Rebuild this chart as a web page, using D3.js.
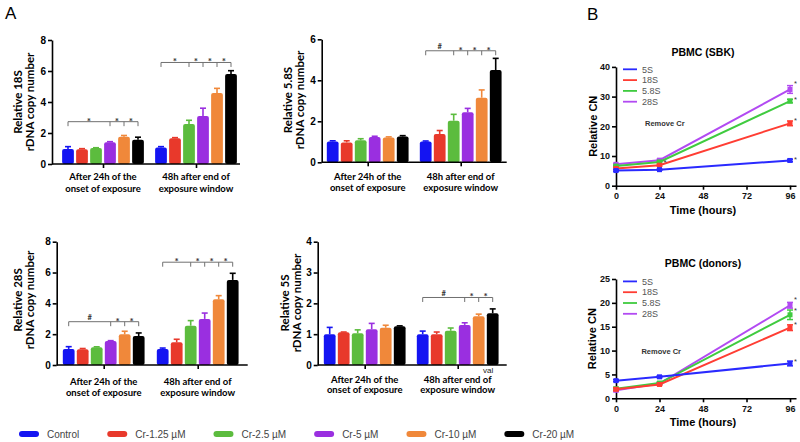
<!DOCTYPE html>
<html>
<head>
<meta charset="utf-8">
<script src="https://cdnjs.cloudflare.com/ajax/libs/d3/7.8.5/d3.min.js"></script>
<style>
    body { margin: 0; background: #ffffff; }
    svg  { display: block; }
</style>
</head>
<body>
<div id="chart"></div>
<script>
/* Panel A data */
var series          = ["Control", "Cr-1.25 µM", "Cr-2.5 µM", "Cr-5 µM", "Cr-10 µM", "Cr-20 µM"];
var seriesColors    = ["#1414f2", "#e8392b", "#5cbc3e", "#9a2fe0", "#f0883a", "#000000"];
var groups          = ["24h", "48h"];
var groupLines      = [["After 24h of the", "onset of exposure"], ["48h after end of", "exposure window"]];

// relative rDNA copy number, [group][series]
var rdna18S         = [[0.97, 0.95, 1.03, 1.40, 1.76, 1.56], [1.07, 1.66, 2.58, 3.10, 4.58, 5.80]];
var rdna18SErr      = [[0.15, 0.04, 0.02, 0.04, 0.08, 0.17], [0.05, 0.04, 0.24, 0.50, 0.30, 0.22]];
var rdna58S         = [[1.02, 0.97, 1.07, 1.24, 1.21, 1.26], [1.01, 1.38, 2.03, 2.44, 3.15, 4.50]];
var rdna58SErr      = [[0.03, 0.08, 0.08, 0.03, 0.03, 0.04], [0.03, 0.17, 0.31, 0.19, 0.38, 0.57]];
var rdna28S         = [[1.04, 1.02, 1.15, 1.56, 1.99, 1.88], [1.04, 1.47, 2.55, 2.99, 4.26, 5.52]];
var rdna28SErr      = [[0.15, 0.05, 0.03, 0.02, 0.20, 0.20], [0.06, 0.20, 0.33, 0.38, 0.24, 0.43]];
var rdna5S          = [[1.00, 1.06, 1.03, 1.16, 1.21, 1.26], [1.00, 1.00, 1.11, 1.30, 1.58, 1.68]];
var rdna5SErr       = [[0.22, 0.01, 0.11, 0.19, 0.08, 0.01], [0.10, 0.07, 0.09, 0.07, 0.07, 0.14]];

var ticks8          = [0, 2, 4, 6, 8];
var ticks6          = [0, 2, 4, 6];
var ticks4          = [0, 1, 2, 3, 4];

// significance brackets: bars joined, level, marks between ticks
var sig18S          = [{group: 0, level: 2.73, bars: [0, 3, 4, 5], marks: ["*", "*", "*"]},
                       {group: 1, level: 6.55, bars: [0, 2, 3, 4, 5], marks: ["*", "*", "*", "*"]}];
var sig58S          = [{group: 1, level: 5.44, bars: [0, 2, 3, 4, 5], marks: ["#", "*", "*", "*"]}];
var sig28S          = [{group: 0, level: 2.81, bars: [0, 3, 4, 5], marks: ["#", "*", "*"]},
                       {group: 1, level: 6.67, bars: [0, 2, 3, 4, 5], marks: ["*", "*", "*", "*"]}];
var sig5S           = [{group: 1, level: 2.19, bars: [0, 3, 4, 5], marks: ["#", "*", "*"]}];

/* Panel B data */
var hours           = [0, 24, 96];
var hourTicks       = [0, 24, 48, 72, 96];
var rrna            = ["5S", "18S", "5.8S", "28S"];
var rrnaColors      = ["#2a2aff", "#ff3d33", "#3fcb3f", "#b24af2"];

var sbk5S           = [5.1, 5.4, 8.5],    sbk5SErr    = [0.3, 0.2, 0.4];
var sbk18S          = [5.8, 6.9, 21.0],   sbk18SErr   = [0.3, 0.3, 0.8];
var sbk58S          = [6.6, 8.0, 28.5],   sbk58SErr   = [0.3, 0.3, 0.6];
var sbk28S          = [7.2, 8.6, 32.4],   sbk28SErr   = [0.3, 0.3, 1.3];
var donor5S         = [3.7, 4.5, 7.3],    donor5SErr  = [0.2, 0.2, 0.5];
var donor18S        = [1.9, 2.9, 14.8],   donor18SErr = [0.3, 0.2, 0.6];
var donor58S        = [2.0, 3.2, 17.5],   donor58SErr = [0.3, 0.2, 1.0];
var donor28S        = [1.7, 3.1, 19.5],   donor28SErr = [0.3, 0.2, 0.6];

var yTicksSbk       = [0, 10, 20, 30, 40];
var yTicksDonor     = [0, 5, 10, 15, 20, 25];

/* Setup */
var fontA = "Lato, 'Liberation Sans', sans-serif",
    fontB = "'Liberation Sans', Arial, sans-serif";

var svg = d3.select("#chart").append("svg")
    .attr("width", 800)
    .attr("height", 442);

svg.append("text").attr("x", 5).attr("y", 19).text("A")
    .style("font-family", fontB).style("font-size", "17px");
svg.append("text").attr("x", 587).attr("y", 20).text("B")
    .style("font-family", fontB).style("font-size", "17px");

/*
Panel A - bar charts
*/

var barPanels = [
    {label: "Relative 18S",  mean: rdna18S, err: rdna18SErr, ticks: ticks8, sig: sig18S, x0: 52,    w: 188, y0: 164,   y1: 40,    cx: [51, 144], lx: 18,  ly: 102, xl: [12, 24]},
    {label: "Relative 5.8S", mean: rdna58S, err: rdna58SErr, ticks: ticks6, sig: sig58S, x0: 321.7, w: 185, y0: 162.3, y1: 39.3,  cx: [46, 139], lx: 288, ly: 100, xl: [14, 25]},
    {label: "Relative 28S",  mean: rdna28S, err: rdna28SErr, ticks: ticks8, sig: sig28S, x0: 56.7,  w: 191, y0: 365,   y1: 241.7, cx: [47, 141], lx: 18,  ly: 300, xl: [16, 27]},
    {label: "Relative 5S",   mean: rdna5S,  err: rdna5SErr,  ticks: ticks4, sig: sig5S,  x0: 317.7, w: 189, y0: 365,   y1: 241.7, cx: [47, 140], lx: 285, ly: 303, xl: [14, 24]}
];

var bx = d3.scaleBand().domain(series).range([-42, 42]).paddingInner(0.16).paddingOuter(0.08);

barPanels.forEach(function (p) {

    var g  = svg.append("g").style("font-family", fontA);
    var y  = d3.scaleLinear().domain([0, d3.max(p.ticks)]).range([p.y0, p.y1]);
    var gx = d3.scalePoint().domain(groups).range([p.x0 + p.cx[0], p.x0 + p.cx[1]]);

    // Bars + error bars
    groups.forEach(function (grp, gi) {
        series.forEach(function (s, si) {
            var v  = p.mean[gi][si],
                e  = p.err[gi][si],
                cx = gx(grp) + bx(s) + bx.bandwidth() / 2,
                c  = seriesColors[si];
            g.append("line")
                .attr("x1", cx).attr("x2", cx)
                .attr("y1", y(v)).attr("y2", y(v + e))
                .attr("stroke", c).attr("stroke-width", 1.6);
            g.append("line")
                .attr("x1", cx - 3).attr("x2", cx + 3)
                .attr("y1", y(v + e)).attr("y2", y(v + e))
                .attr("stroke", c).attr("stroke-width", 1.6);
            g.append("rect")
                .attr("x", gx(grp) + bx(s))
                .attr("y", y(v))
                .attr("width", bx.bandwidth())
                .attr("height", p.y0 - y(v))
                .attr("rx", 2)
                .attr("fill", c);
        });
    });

    // Y axis
    var ya = g.append("g")
        .attr("transform", "translate(" + p.x0 + ",0)")
        .call(d3.axisLeft(y).tickValues(p.ticks).tickFormat(d3.format("d")).tickSize(4).tickSizeOuter(0).tickPadding(2));
    ya.select(".domain").attr("stroke-width", 1.6);
    ya.selectAll(".tick line").attr("stroke-width", 1.6);
    ya.selectAll(".tick text").style("font-size", "10px").style("font-weight", "bold").attr("fill", "#000");

    // X axis
    var xa = g.append("g")
        .attr("transform", "translate(0," + p.y0 + ")")
        .call(d3.axisBottom(gx).tickSize(4).tickFormat(""));
    xa.select(".domain").remove();
    xa.selectAll(".tick line").attr("stroke-width", 1.6);
    xa.append("line")
        .attr("x1", p.x0).attr("x2", p.x0 + p.w)
        .attr("stroke", "#000").attr("stroke-width", 1.6);

    // Group labels
    groups.forEach(function (grp, gi) {
        groupLines[gi].forEach(function (line, li) {
            g.append("text")
                .attr("x", gx(grp))
                .attr("y", p.y0 + p.xl[li] + 3.5)
                .attr("text-anchor", "middle")
                .style("font-size", "9.5px").style("font-weight", "bold")
                .text(line);
        });
    });

    // Y title
    [p.label, "rDNA copy number"].forEach(function (line, li) {
        g.append("text")
            .attr("transform", "translate(" + (p.lx + li * 12) + "," + p.ly + ") rotate(-90)")
            .attr("dy", "0.35em")
            .attr("text-anchor", "middle")
            .style("font-size", "11.5px").style("font-weight", "bold")
            .text(line);
    });

    // Significance brackets
    p.sig.forEach(function (b) {
        var grp = groups[b.group],
            yl  = y(b.level),
            xs  = b.bars.map(function (i) { return gx(grp) + bx(series[i]) + bx.bandwidth() / 2; });
        g.append("line")
            .attr("x1", xs[0]).attr("x2", xs[xs.length - 1])
            .attr("y1", yl).attr("y2", yl)
            .attr("stroke", "#707070").attr("stroke-width", 1);
        xs.forEach(function (xv) {
            g.append("line")
                .attr("x1", xv).attr("x2", xv)
                .attr("y1", yl).attr("y2", yl + 4.5)
                .attr("stroke", "#707070").attr("stroke-width", 1);
        });
        b.marks.forEach(function (m, mi) {
            g.append("text")
                .attr("x", (xs[mi] + xs[mi + 1]) / 2)
                .attr("y", m === "*" ? yl + 3 : yl - 1.5)
                .attr("text-anchor", "middle")
                .style("font-size", m === "*" ? "10px" : "7.5px").style("font-weight", "bold")
                .attr("fill", "#333")
                .text(m);
        });
    });
});

// stray label fragment in the 5S panel
svg.append("text").attr("x", 483).attr("y", 373).text("val")
    .style("font-family", fontB).style("font-size", "8px").attr("fill", "#222");

// Bottom legend
var lx = 19;
series.forEach(function (s, si) {
    svg.append("rect")
        .attr("x", lx).attr("y", 431)
        .attr("width", 20).attr("height", 6)
        .attr("rx", 3)
        .attr("fill", seriesColors[si]);
    var t = svg.append("text")
        .attr("x", lx + 28).attr("y", 438)
        .style("font-family", fontB).style("font-size", "10px")
        .attr("fill", "#444")
        .text(s);
    lx += 28 + t.node().getComputedTextLength() + 28;
});

/*
Panel B - time courses
*/

var linePanels = [
    {title: "PBMC (SBK)",    means: [sbk5S, sbk18S, sbk58S, sbk28S],         errs: [sbk5SErr, sbk18SErr, sbk58SErr, sbk28SErr],
     ticks: yTicksSbk,   y0: 185.7, y1: 66.9, titleY: 52,  labelX: 593, removeAt: [16, 20], extraStar: [24, 8.3]},
    {title: "PBMC (donors)", means: [donor5S, donor18S, donor58S, donor28S], errs: [donor5SErr, donor18SErr, donor58SErr, donor28SErr],
     ticks: yTicksDonor, y0: 398.3, y1: 279,  titleY: 263, labelX: 592, removeAt: [14, 9.2], extraStar: null}
];

var x = d3.scaleLinear().domain([0, 99.3]).range([616, 796]);

linePanels.forEach(function (p) {

    var g = svg.append("g").style("font-family", fontB);
    var y = d3.scaleLinear().domain([0, d3.max(p.ticks)]).range([p.y0, p.y1]);

    // Axes
    var ya = g.append("g")
        .attr("transform", "translate(" + x(0) + ",0)")
        .call(d3.axisLeft(y).tickValues(p.ticks).tickFormat(d3.format("d")).tickSize(4).tickSizeOuter(0).tickPadding(2));
    var xa = g.append("g")
        .attr("transform", "translate(0," + p.y0 + ")")
        .call(d3.axisBottom(x).tickValues(hourTicks).tickFormat(d3.format("d")).tickSize(4).tickSizeOuter(0).tickPadding(3));
    [ya, xa].forEach(function (a) {
        a.select(".domain").attr("stroke-width", 1.6);
        a.selectAll(".tick line").attr("stroke-width", 1.6);
        a.selectAll(".tick text").style("font-size", "9px").style("font-weight", "bold").attr("fill", "#111");
    });

    g.append("text")
        .attr("x", (x(0) + x(96)) / 2).attr("y", p.titleY + 4)
        .attr("text-anchor", "middle")
        .style("font-size", "10.5px").style("font-weight", "bold")
        .text(p.title);
    g.append("text")
        .attr("x", (x(0) + x(96)) / 2).attr("y", p.y0 + 28)
        .attr("text-anchor", "middle")
        .style("font-size", "11px").style("font-weight", "bold")
        .text("Time (hours)");
    g.append("text")
        .attr("transform", "translate(" + p.labelX + "," + ((p.y0 + p.y1) / 2) + ") rotate(-90)")
        .attr("dy", "0.35em")
        .attr("text-anchor", "middle")
        .style("font-size", "11px").style("font-weight", "bold")
        .text("Relative CN");
    g.append("text")
        .attr("x", x(p.removeAt[0])).attr("y", y(p.removeAt[1]))
        .style("font-size", "7.5px").style("font-weight", "bold").attr("fill", "#333")
        .text("Remove Cr");

    // Lines, drawn back to front
    var line = d3.line()
        .x(function (d) { return x(d.h); })
        .y(function (d) { return y(d.v); });

    [3, 2, 1, 0].forEach(function (ri) {
        var c   = rrnaColors[ri],
            pts = hours.map(function (h, hi) { return {h: h, v: p.means[ri][hi], e: p.errs[ri][hi]}; });
        g.append("path")
            .datum(pts)
            .attr("d", line)
            .attr("fill", "none")
            .attr("stroke", c)
            .attr("stroke-width", 2);
        pts.forEach(function (d) {
            g.append("line")
                .attr("x1", x(d.h)).attr("x2", x(d.h))
                .attr("y1", y(d.v - d.e)).attr("y2", y(d.v + d.e))
                .attr("stroke", c).attr("stroke-width", 1.5);
            [d.v - d.e, d.v + d.e].forEach(function (ev) {
                g.append("line")
                    .attr("x1", x(d.h) - 3).attr("x2", x(d.h) + 3)
                    .attr("y1", y(ev)).attr("y2", y(ev))
                    .attr("stroke", c).attr("stroke-width", 1.5);
            });
            g.append("rect")
                .attr("x", x(d.h) - 2.5).attr("y", y(d.v) - 2.5)
                .attr("width", 5).attr("height", 5)
                .attr("fill", c);
        });
        // star beside the 96 h point; 28S lifted a little so it clears 5.8S
        var last = pts[pts.length - 1];
        g.append("text")
            .attr("x", x(last.h) + 4).attr("y", y(last.v + last.e) + (ri === 3 ? 0 : 2.5))
            .style("font-size", "7.5px").attr("fill", "#333")
            .text("*");
    });

    if (p.extraStar) {
        g.append("text")
            .attr("x", x(p.extraStar[0]) + 4).attr("y", y(p.extraStar[1]) + 4)
            .style("font-size", "8px").attr("fill", "#333")
            .text("*");
    }

    // Legend
    rrna.forEach(function (r, ri) {
        var ly = p.y1 + 2.4 + ri * 10.8;
        g.append("line")
            .attr("x1", 623).attr("x2", 637)
            .attr("y1", ly).attr("y2", ly)
            .attr("stroke", rrnaColors[ri]).attr("stroke-width", 1.8);
        g.append("text")
            .attr("x", 642).attr("y", ly + 3.2)
            .style("font-size", "9px").attr("fill", "#555")
            .text(r);
    });
});
</script>
</body>
</html>
